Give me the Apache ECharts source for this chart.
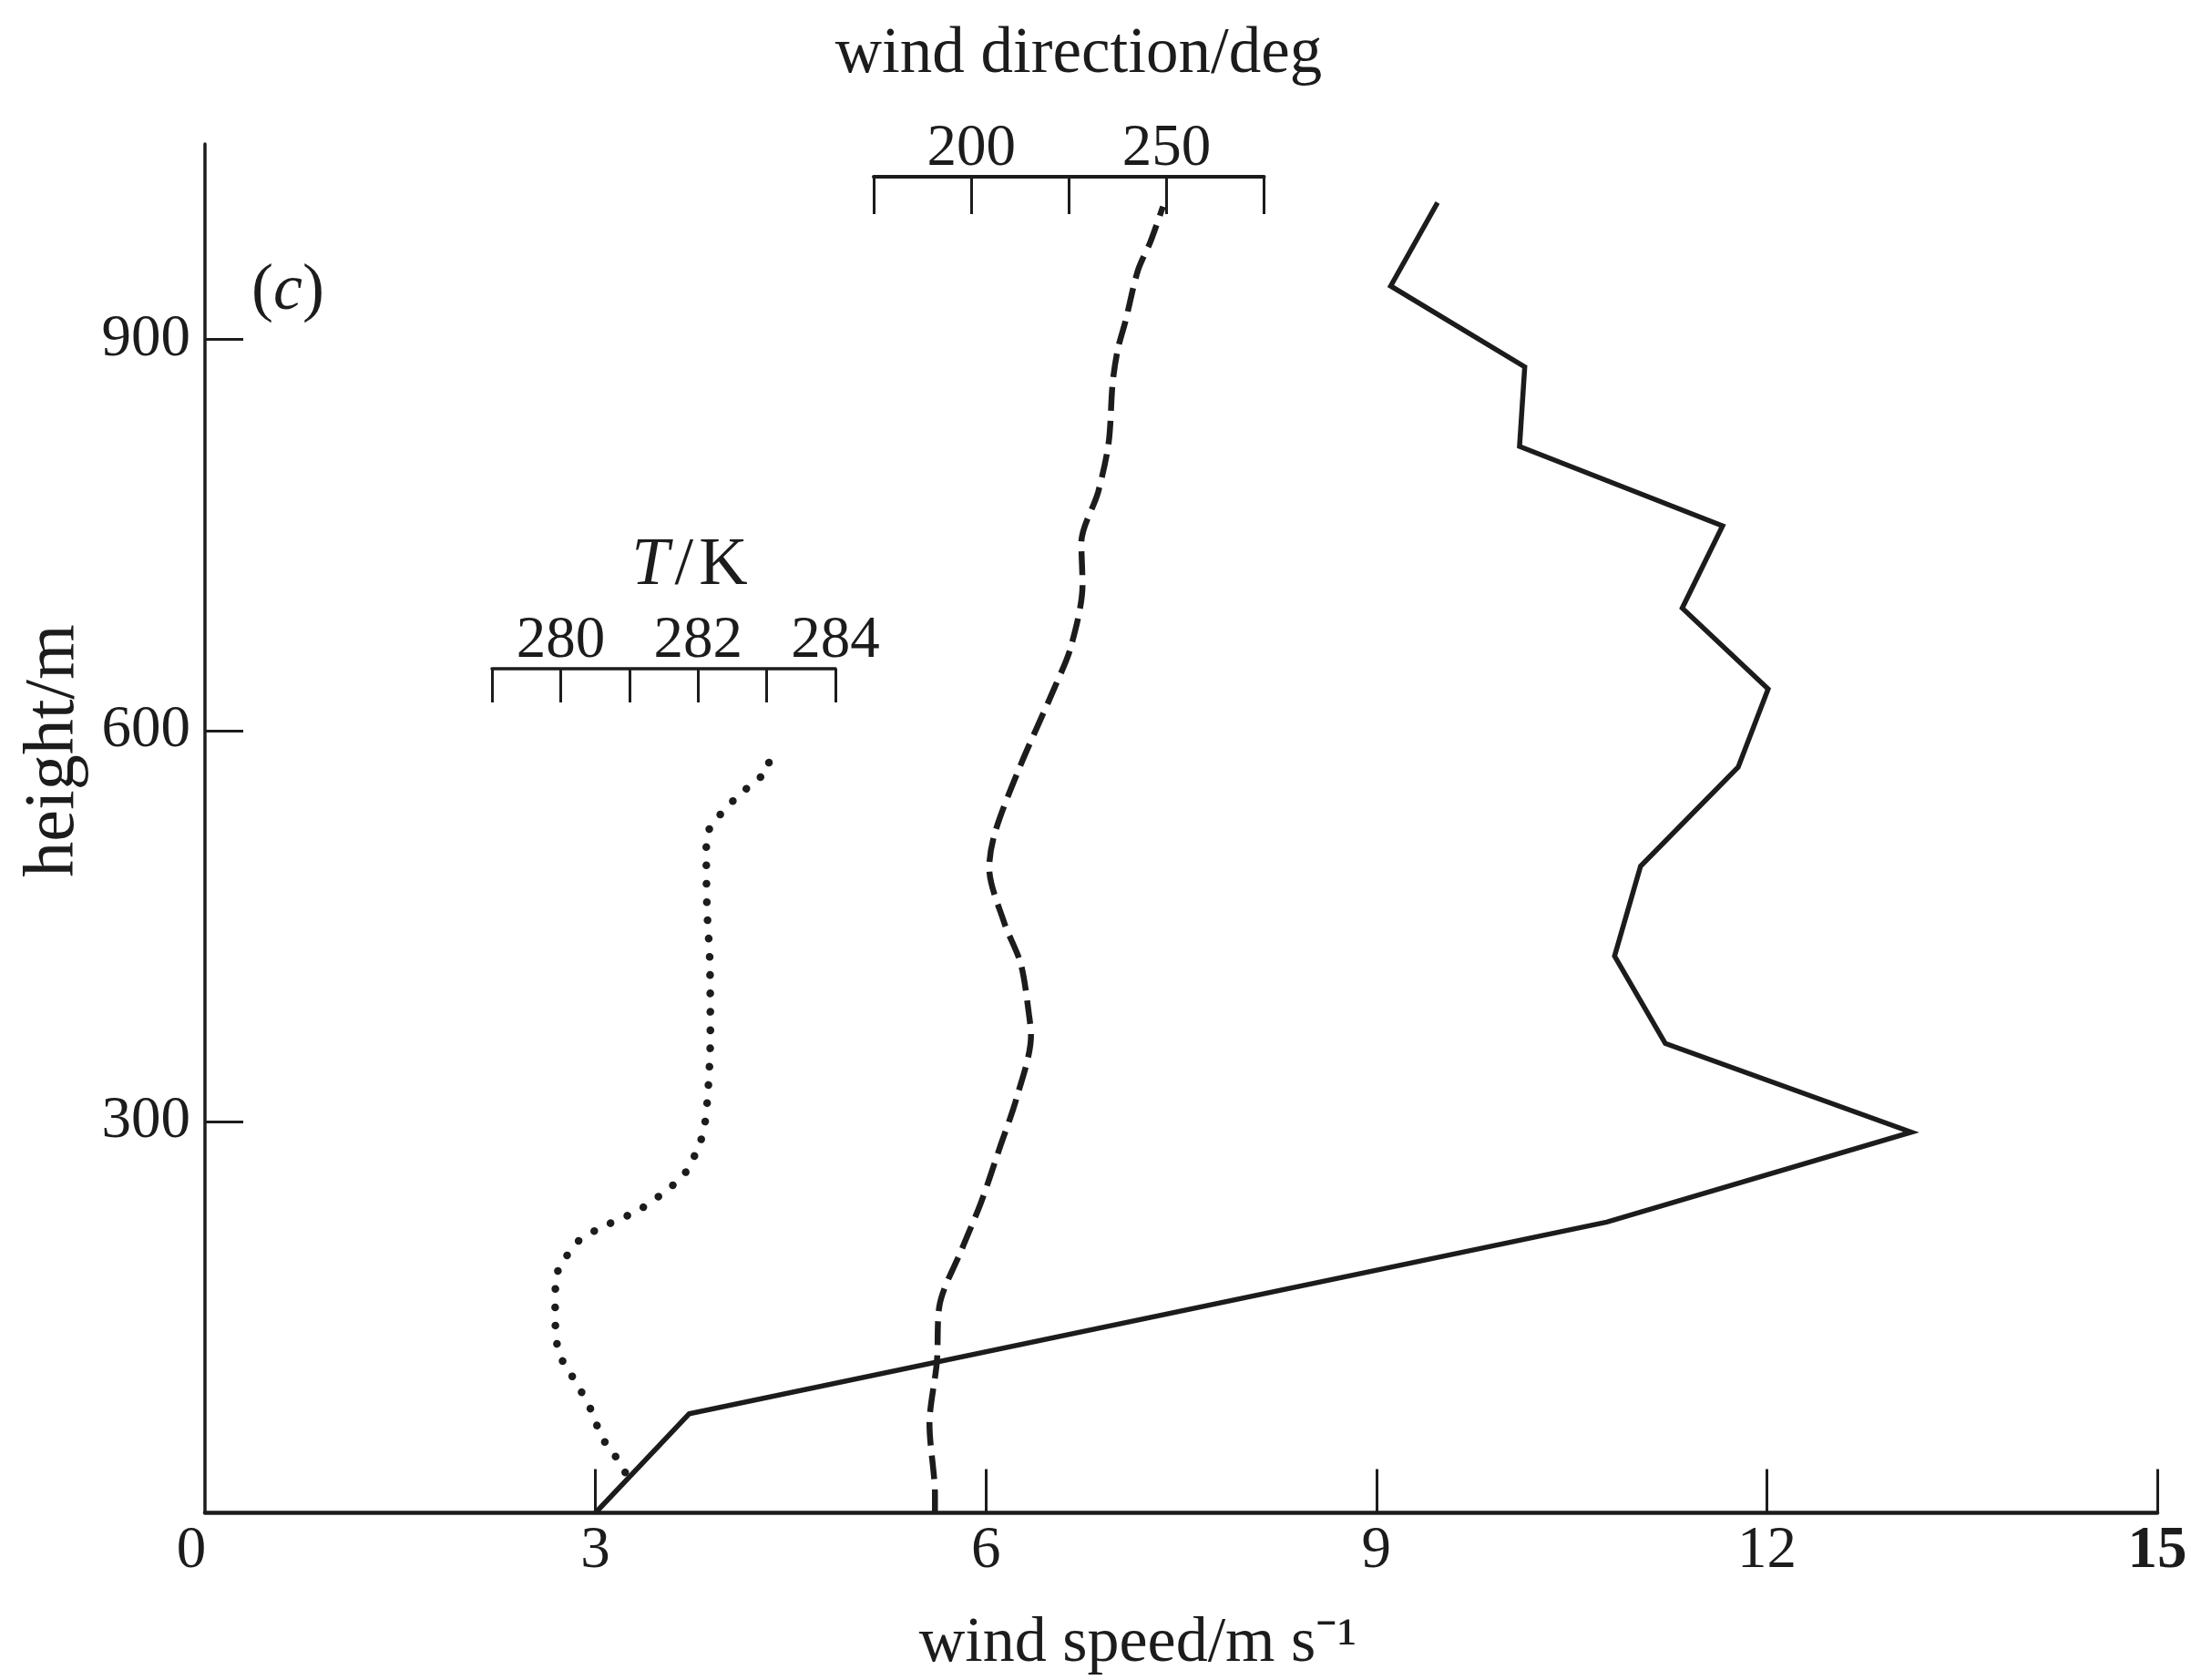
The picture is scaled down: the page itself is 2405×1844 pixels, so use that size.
<!DOCTYPE html>
<html>
<head>
<meta charset="utf-8">
<script src="https://cdn.jsdelivr.net/npm/echarts@6/dist/echarts.min.js"></script>
<style>
html,body{margin:0;padding:0;background:#fff;}
#chart{width:2405px;height:1844px;}
</style>
</head>
<body>
<div id="chart"></div>
<script>
// ---------------- data ----------------
const speedTickValues = [3, 6, 9, 12, 15];
const speedLabelValues = [0, 3, 6, 9, 12, 15];
const heightTicks = [300, 600, 900];
const tempTickLabels = [280, 282, 284];
const dirTickLabels = [200, 250];

// wind speed profile (m/s) vs height (m)
const windSpeed       = [3.0, 3.72, 10.77, 13.11, 11.22, 10.83, 11.03, 11.78, 12.01, 11.35, 11.66, 10.10, 10.14, 9.11, 9.47];
const windSpeedHeight = [0,   76,   223,   292,   360,   427,   496,   572,   632,   694,   757,   818,   879,   941,  1005];

// wind direction profile (deg) vs height (m)
const windDir       = [190.7, 190.7, 189.3, 191.2, 191.8, 197.7, 202.5, 207.3, 211.6, 215.3, 214.8, 212.7, 208.4, 204.6, 206.2, 212.7, 221.2, 225.5, 228.5, 228.2, 232.5, 235.2, 236.2, 237.5, 239.5, 242.7, 245.9, 249.1];
const windDirHeight = [0,     14,    68,    116,   158,   203,   238,   280,   318,   366,   382,   421,   453,   495,   523,   574,   632,   664,   712,   744,   783,   821,   866,   892,   914,   953,   975,   1002];

// temperature profile (K) vs height (m)
const temperature       = [280.94, 280.79, 280.60, 280.45, 280.30, 280.12, 279.97, 279.92, 279.93, 280.04, 280.27, 280.60, 281.16, 281.65, 281.83, 282.00, 282.09, 282.15, 282.18, 282.17, 282.13, 282.12, 282.16, 282.28, 282.42, 282.60, 282.81, 283.04, 282.94];
const temperatureHeight = [31,     44,     58,     78,     93,     109,    123,    152,    180,    193,    209,    219,    233,    252,    262,    280,    295,    327,    366,    425,    464,    510,    524,    533,    541,    551,    560,    573,    587];

// ---------------- layout ----------------
const FONT = '"Liberation Serif", "Times New Roman", serif';
const INK = '#1c1c1c';
const X_LEFT = 225, X_RIGHT = 2368, Y_BOTTOM = 1660.5, Y_TOP = 158;
const H_MAX = 1050;
const PX_PER_M = (Y_BOTTOM - Y_TOP) / H_MAX;

const T_LEFT = 540, T_RIGHT = 917, T_LINE = 734;
const D_LEFT = 959, D_RIGHT = 1387.5, D_LINE = 194;

const TICK_FS = 65;

function zip(xs, ys) { return xs.map((x, i) => [x, ys[i]]); }

const tickLabelStyle = { fontFamily: FONT, fontSize: TICK_FS, color: INK };

const option = {
  backgroundColor: '#ffffff',
  animation: false,
  grid: [
    { left: X_LEFT, top: Y_TOP, width: X_RIGHT - X_LEFT, height: Y_BOTTOM - Y_TOP },
    { left: T_LEFT, top: T_LINE, width: T_RIGHT - T_LEFT, height: Y_BOTTOM - T_LINE },
    { left: D_LEFT, top: D_LINE, width: D_RIGHT - D_LEFT, height: Y_BOTTOM - D_LINE }
  ],
  xAxis: [
    {
      gridIndex: 0, type: 'value', position: 'bottom', min: 0, max: 15, interval: 3,
      axisLine: { show: true, onZero: false, lineStyle: { color: INK, width: 4.5 } },
      axisTick: { show: true, inside: true, length: 48, customValues: speedTickValues, lineStyle: { color: INK, width: 3 } },
      axisLabel: {
        show: true, margin: 10, customValues: speedLabelValues,
        ...tickLabelStyle,
        formatter: v => (v === 15 ? '{b|15}' : (v === 0 ? '{z|0}' : String(v))),
        rich: {
          b: { fontFamily: FONT, fontSize: TICK_FS, fontWeight: 'bold', color: INK },
          z: { fontFamily: FONT, fontSize: TICK_FS, color: INK, padding: [0, 30, 0, 0] }
        }
      },
      splitLine: { show: false }
    },
    {
      gridIndex: 1, type: 'value', position: 'top', min: 279, max: 284, interval: 1,
      axisLine: { show: true, onZero: false, lineStyle: { color: INK, width: 3.5 } },
      axisTick: { show: true, inside: true, length: 37, lineStyle: { color: INK, width: 3 } },
      axisLabel: { show: true, margin: -2, customValues: tempTickLabels, ...tickLabelStyle },
      splitLine: { show: false }
    },
    {
      gridIndex: 2, type: 'value', position: 'top', min: 175, max: 275, interval: 25,
      axisLine: { show: true, onZero: false, lineStyle: { color: INK, width: 4 } },
      axisTick: { show: true, inside: true, length: 41, lineStyle: { color: INK, width: 3 } },
      axisLabel: { show: true, margin: -2, customValues: dirTickLabels, ...tickLabelStyle },
      splitLine: { show: false }
    }
  ],
  yAxis: [
    {
      gridIndex: 0, type: 'value', min: 0, max: H_MAX, interval: 300,
      axisLine: { show: true, onZero: false, lineStyle: { color: INK, width: 3.5 } },
      axisTick: { show: true, inside: true, length: 42, customValues: heightTicks, lineStyle: { color: INK, width: 3 } },
      axisLabel: { show: true, margin: 16, customValues: heightTicks, ...tickLabelStyle },
      splitLine: { show: false }
    },
    { gridIndex: 1, type: 'value', min: 0, max: (Y_BOTTOM - T_LINE) / PX_PER_M, show: false, splitLine: { show: false } },
    { gridIndex: 2, type: 'value', min: 0, max: (Y_BOTTOM - D_LINE) / PX_PER_M, show: false, splitLine: { show: false } }
  ],
  series: [
    {
      name: 'wind speed', type: 'line', xAxisIndex: 0, yAxisIndex: 0,
      data: zip(windSpeed, windSpeedHeight),
      showSymbol: false, symbol: 'none',
      lineStyle: { color: INK, width: 5.5, join: 'miter' }
    },
    {
      name: 'temperature', type: 'line', xAxisIndex: 1, yAxisIndex: 1,
      data: zip(temperature, temperatureHeight),
      showSymbol: false, symbol: 'none', clip: false, smooth: 0.3,
      lineStyle: { color: INK, width: 8.5, type: [0.1, 20], cap: 'round' }
    },
    {
      name: 'wind direction', type: 'line', xAxisIndex: 2, yAxisIndex: 2,
      data: zip(windDir, windDirHeight),
      showSymbol: false, symbol: 'none', clip: false, smooth: 0.3,
      lineStyle: { color: INK, width: 6.5, type: [26, 11] }
    }
  ],
  graphic: [
    {
      type: 'text', x: 1184, y: 60,
      style: { text: 'wind direction/deg', fontFamily: FONT, fontSize: 71, fill: INK,
               align: 'center', verticalAlign: 'middle', textAlign: 'center', textVerticalAlign: 'middle' }
    },
    {
      type: 'text', x: 757, y: 622,
      style: { text: '{i|T}\u200A/\u200AK', fontFamily: FONT, fontSize: 74, fill: INK,
               align: 'center', verticalAlign: 'middle', textAlign: 'center', textVerticalAlign: 'middle',
               rich: { i: { fontFamily: FONT, fontSize: 74, fontStyle: 'italic', fill: INK } } }
    },
    {
      type: 'text', x: 316, y: 320,
      style: { text: '({i|c})', fontFamily: FONT, fontSize: 72, fill: INK,
               align: 'center', verticalAlign: 'middle', textAlign: 'center', textVerticalAlign: 'middle',
               rich: { i: { fontFamily: FONT, fontSize: 72, fontStyle: 'italic', fill: INK } } }
    },
    {
      type: 'text', x: 60, y: 824, rotation: Math.PI / 2,
      style: { text: 'height/m', fontFamily: FONT, fontSize: 78, fill: INK,
               align: 'center', verticalAlign: 'middle', textAlign: 'center', textVerticalAlign: 'middle' }
    },
    {
      type: 'text', x: 1249, y: 1805,
      style: { text: 'wind speed/m s\u207B\u00B9', fontFamily: FONT, fontSize: 70, fill: INK,
               align: 'center', verticalAlign: 'middle', textAlign: 'center', textVerticalAlign: 'middle' }
    }
  ]
};

const chart = echarts.init(document.getElementById('chart'), null, { renderer: 'canvas', width: 2405, height: 1844 });
chart.setOption(option);
</script>
</body>
</html>
